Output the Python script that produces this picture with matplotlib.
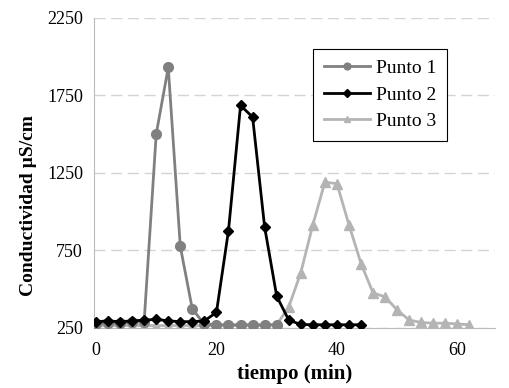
import matplotlib.pyplot as plt
from matplotlib.ticker import FixedLocator

# tiempo (min) y conductividad (uS/cm)
t1 = [0, 2, 4, 6, 8, 10, 12, 14, 16, 18, 20, 22, 24, 26, 28, 30]
c1 = [275, 280, 280, 285, 290, 1500, 1930, 775, 370, 275, 270, 270, 270, 270, 270, 270]

t2 = [0, 2, 4, 6, 8, 10, 12, 14, 16, 18, 20, 22, 24, 26, 28, 30, 32, 34, 36, 38, 40, 42, 44]
c2 = [290, 295, 290, 295, 300, 305, 295, 290, 290, 295, 350, 878, 1685, 1610, 900, 455, 300,
      272, 270, 270, 270, 270, 270]

t3 = [0, 2, 4, 6, 8, 10, 12, 14, 16, 18, 20, 22, 24, 26, 28, 30, 32, 34, 36, 38, 40, 42,
      44, 46, 48, 50, 52, 54, 56, 58, 60, 62]
c3 = [265, 265, 265, 265, 265, 265, 265, 265, 265, 265, 265, 265, 265, 265, 265, 270, 385,
      605, 915, 1190, 1180, 915, 665, 475, 450, 365, 300, 285, 280, 280, 275, 270]

plt.rcParams['font.family'] = ['Liberation Serif', 'DejaVu Serif']

fig = plt.figure(figsize=(5.09, 3.88), dpi=100)
ax = fig.add_axes([0.185, 0.155, 0.787, 0.799])

ax.plot(t3, c3, color='#b4b4b4', lw=2, marker='^', ms=6.5, label='Punto 3', zorder=3)
ax.plot(t1, c1, color='#808080', lw=2, marker='o', ms=7, label='Punto 1', zorder=4)
ax.plot(t2, c2, color='black', lw=2, marker='D', ms=5.5, label='Punto 2', zorder=5)

ax.set_xlim(-0.3, 66.2)
ax.set_ylim(250, 2250)
ax.xaxis.set_major_locator(FixedLocator([0, 20, 40, 60]))
ax.yaxis.set_major_locator(FixedLocator([250, 750, 1250, 1750, 2250]))
ax.tick_params(length=0, labelsize=13)
ax.tick_params(axis='y', pad=8)
ax.tick_params(axis='x', pad=10)

ax.grid(axis='y', color='#d4d4d4', lw=1, linestyle=(0, (8, 4)))
ax.set_axisbelow(True)
for s in ['top', 'right']:
    ax.spines[s].set_visible(False)
ax.spines['left'].set_color('#bbbbbb')
ax.spines['bottom'].set_color('#bbbbbb')

ax.set_xlabel('tiempo (min)', fontsize=15, fontweight='bold')
ax.set_ylabel('Conductividad µS/cm', fontsize=14, fontweight='bold')
ax.xaxis.set_label_coords(0.5, -0.148)
ax.xaxis.label.set_va('center')
ax.yaxis.set_label_coords(-0.163, 0.394)
ax.yaxis.label.set_va('center')

h, l = ax.get_legend_handles_labels()
order = [1, 2, 0]
leg = ax.legend([h[i] for i in order], [l[i] for i in order], loc='upper left',
                bbox_to_anchor=(0.546, 0.9), borderaxespad=0, fancybox=False,
                edgecolor='black', prop={'family': 'Liberation Serif', 'size': 14},
                handlelength=2.4, handletextpad=0.3, borderpad=0.55,
                labelspacing=0.45, markerscale=0.7, framealpha=1)
leg.get_frame().set_linewidth(0.8)

fig.savefig('out.png')
